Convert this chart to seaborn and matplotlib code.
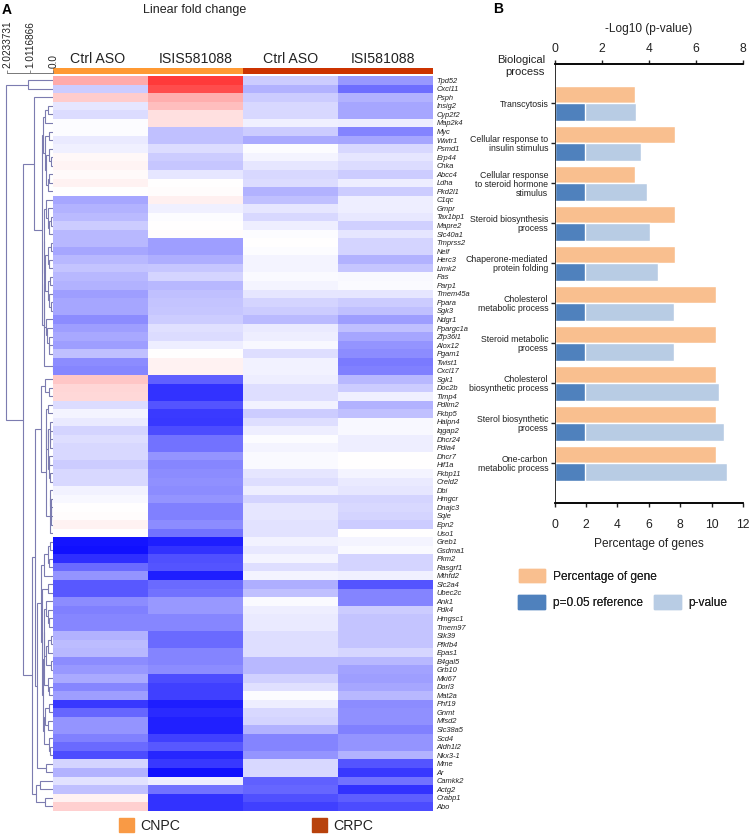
import matplotlib
matplotlib.use("Agg")
import matplotlib.pyplot as plt
from matplotlib.colors import ListedColormap
from matplotlib.patches import Patch
import numpy as np
import pandas as pd
import seaborn as sns

# panel A: heatmap rows, top to bottom
genes = ["Tpd52", "Cxcl11", "Psph", "Insig2", "Cyp2f2", "Map2k4", "Myc", "Wwtr1", "Psmd1", "Erp44",
         "Chka", "Abcc4", "Ldha", "Pkd2l1", "C1qc", "Gmpr", "Tax1bp1", "Mapre2", "Slc40a1", "Tmprss2",
         "Nelf", "Herc3", "Limk2", "Fas", "Parp1", "Tmem45a", "Ppara", "Sgk3", "Ndgr1", "Ppargc1a",
         "Zfp36l1", "Alox12", "Pgam1", "Twist1", "Cxcl17", "Sgk1", "Doc2b", "Timp4", "Pdlim2", "Fkbp5",
         "Halpn4", "Iqgap2", "Dhcr24", "Pdia4", "Dhcr7", "Hif1a", "Fkbp11", "Creld2", "Dbi", "Hmgcr",
         "Dnajc3", "Sqle", "Epn2", "Uso1", "Greb1", "Gsdma1", "Pkm2", "Rasgrf1", "Mthfd2", "Slc2a4",
         "Ubec2c", "Ank1", "Pdk4", "Hmgsc1", "Tmem97", "Stk39", "Pfkfb4", "Epas1", "B4gal5", "Grb10",
         "Mki67", "Dorl3", "Mat2a", "Phf19", "Gnmt", "Mfsd2", "Slc38a5", "Scd4", "Aldh1l2", "Nkx3-1",
         "Mme", "Ar", "Camkk2", "Actg2", "Crabp1", "Abo"]
cnpc_ctrl = [.33, -.2, .2, -.1, -.14, -.01, -.01, -.08, -.06, .03,
             .04, .02, .05, 0, -.35, -.3, -.27, -.2, -.28, -.28,
             -.35, -.28, -.23, -.28, -.3, -.38, -.35, -.35, -.45, -.38,
             -.34, -.38, -.25, -.45, -.47, .22, .16, .15, -.14, -.04,
             -.08, -.17, -.13, -.15, -.15, -.2, -.15, -.15, -.05, -.03,
             0, .01, .05, 0, -.92, -.93, -.82, -.58, -.42, -.65,
             -.65, -.45, -.5, -.47, -.47, -.3, -.26, -.28, -.45, -.4,
             -.33, -.47, -.38, -.78, -.6, -.42, -.42, -.5, -.58, -.7,
             -.17, -.3, -.11, -.25, .05, .18]
cnpc_isis = [.77, .7, .32, .25, .12, .12, -.25, -.25, -.14, -.2,
             -.22, -.1, 0, .01, .06, -.06, -.01, 0, .01, -.38,
             -.38, -.32, -.22, -.17, -.28, -.25, -.23, -.22, -.2, -.12,
             -.14, -.07, 0, .05, .05, -.62, -.8, -.8, -.67, -.77,
             -.78, -.7, -.55, -.55, -.42, -.47, -.45, -.43, -.45, -.42,
             -.5, -.5, -.45, -.55, -.88, -.8, -.68, -.67, -.88, -.58,
             -.55, -.4, -.4, -.47, -.47, -.58, -.58, -.48, -.48, -.45,
             -.7, -.75, -.75, -.88, -.83, -.87, -.87, -.75, -.65, -.85,
             -.78, -.93, -.07, -.55, -.8, -.8]
crpc_ctrl = [-.2, -.3, -.2, -.15, -.15, -.06, -.2, -.33, -.01, -.04,
             -.1, -.15, -.14, -.3, -.25, -.1, -.15, -.07, -.01, 0,
             -.01, -.04, -.04, -.02, -.04, -.1, -.17, -.2, -.27, -.08,
             -.07, -.03, -.13, -.05, -.05, -.07, -.13, -.13, -.05, -.2,
             -.13, -.07, -.01, -.04, -.02, -.02, -.1, -.13, -.07, -.17,
             -.1, -.1, -.11, -.11, -.05, -.09, -.04, -.13, -.04, -.32,
             -.25, -.02, -.07, -.08, -.08, -.13, -.13, -.13, -.28, -.28,
             -.18, -.12, -.01, -.07, -.15, -.17, -.3, -.48, -.48, -.42,
             -.15, -.15, -.62, -.6, -.68, -.75]
crpc_isi = [-.4, -.57, -.3, -.35, -.35, -.07, -.48, -.35, -.15, -.1,
            -.14, -.2, -.07, -.2, -.07, -.07, -.09, -.18, -.1, -.17,
            -.17, -.3, -.22, -.03, -.02, -.1, -.2, -.25, -.38, -.25,
            -.35, -.42, -.45, -.52, -.5, -.28, -.2, -.06, -.3, -.25,
            -.03, -.03, -.07, -.07, 0, 0, -.04, -.08, -.1, -.17,
            -.15, -.17, -.2, 0, -.04, -.02, -.17, -.17, -.06, -.67,
            -.48, -.48, -.2, -.23, -.23, -.23, -.23, -.16, -.28, -.36,
            -.38, -.35, -.28, -.45, -.43, -.43, -.5, -.42, -.42, -.3,
            -.67, -.78, -.55, -.8, -.63, -.7]
column_labels = ["Ctrl ASO", "ISIS581088", "Ctrl ASO", "ISI581088"]
stage_groups = [[0, 0, 1, 1]]

# dendrogram as (height, child, child); plain ints are row numbers
top_pair = (1.09, 0, 1)
rows_3_13 = (.46, (.35, (.25, 3, 4), 5),
             (.38, (.17, 6, 7), (.33, (.2, 8, (.12, 9, 10)), (.22, (.2, 11, 12), 13))))
rows_14_18 = (.3, 14, (.22, 15, (.18, (.1, 16, 17), 18)))
rows_19_27 = (.38, (.25, (.08, 19, 20), (.2, 21, 22)),
              (.24, (.16, 23, 24), (.2, 25, (.08, 26, 27))))
rows_28_32 = (.33, 28, (.28, 29, (.2, 30, (.18, 31, 32))))
rows_14_34 = (.42, (.4, (.39, rows_14_18, rows_19_27), rows_28_32), (.02, 33, 34))
upper_branch = (.83, 2, (.5, rows_3_13, rows_14_34))
rows_38_47 = (.3, (.22, 38, 39),
              (.24, (.15, 40, (.14, 41, (.13, 42, 43))), (.2, (.17, 44, 45), (.16, 46, 47))))
rows_48_53 = (.16, (.14, 48, (.12, 49, (.1, 50, (.08, 51, 52)))), 53)
rows_35_53 = (.55, (.35, 35, (.17, 36, 37)), (.32, rows_38_47, rows_48_53))
rows_54_58 = (.42, (.24, (.13, 54, 55), (.2, 56, 57)), 58)
rows_61_69 = (.39, (.3, 61, (.22, 62, (.17, 63, 64))),
              (.3, (.22, (.12, 65, 66), 67), (.1, 68, 69)))
rows_70_72 = (.25, 70, (.2, 71, 72))
rows_73_79 = (.4, (.35, (.2, 73, 74), (.25, 75, 76)), (.2, 77, (.15, 78, 79)))
rows_59_79 = (.48, (.22, 59, 60), (.45, (.42, rows_61_69, rows_70_72), rows_73_79))
rows_54_81 = (.7, (.54, rows_54_58, rows_59_79), (.3, 80, 81))
rows_82_85 = (.755, (.57, 82, 83), (.35, 84, 85))
lower_branch = (.92, (.8, rows_35_53, rows_54_81), rows_82_85)
tree = (2.05, top_pair, (1.31, upper_branch, lower_branch))
dendro_ticks = [0.0, 1.0116866, 2.0233731]

# panel B
processes = ["Transcytosis", "Cellular response to\ninsulin stimulus",
             "Cellular response\nto steroid hormone\nstimulus", "Steroid biosynthesis\nprocess",
             "Chaperone-mediated\nprotein folding", "Cholesterol\nmetabolic process",
             "Steroid metabolic\nprocess", "Cholesterol\nbiosynthetic process",
             "Sterol biosynthetic\nprocess", "One-carbon\nmetabolic process"]
pct_genes = [5.13, 7.69, 5.13, 7.69, 7.69, 10.26, 10.26, 10.26, 10.26, 10.26]
log_p = [3.45, 3.66, 3.9, 4.03, 4.37, 5.05, 5.07, 6.95, 7.17, 7.31]
p_reference = [1.3] * 10

ORANGE = "#F9BF8F"
DARK_BLUE = "#4F81BD"
LIGHT_BLUE = "#B8CCE4"
SIDE_ORDER = ["gene", "p"]

sns.set_theme(style="white")
plt.rcParams["font.family"] = ["Liberation Sans", "DejaVu Sans"]

W, H = 750, 839
fig = plt.figure(figsize=(W / 100, H / 100), dpi=100)


def ax_px(x0, y0, x1, y1):
    # axes from pixel box, y measured from the top of the figure
    return fig.add_axes([x0 / W, 1 - y1 / H, (x1 - x0) / W, (y1 - y0) / H])


# heatmap
heat = pd.DataFrame({"a": cnpc_ctrl, "b": cnpc_isis, "c": crpc_ctrl, "d": crpc_isi}, index=genes)
ax_heat = ax_px(53.3, 76, 433.3, 810.7)
sns.heatmap(heat, ax=ax_heat, cmap="bwr", vmin=-1, vmax=1, cbar=False, xticklabels=False,
            yticklabels=genes)
ax_heat.yaxis.tick_right()
ax_heat.tick_params(axis="y", length=0, pad=2.2, labelrotation=0, labelsize=5.4)
for lab in ax_heat.get_yticklabels():
    lab.set_style("italic")
    lab.set_color("#222222")

# stage strip above the heatmap
ax_strip = ax_px(53.3, 67.5, 433.3, 74)
sns.heatmap(stage_groups, ax=ax_strip, cmap=ListedColormap(["#FF9933", "#CC3300"]), cbar=False,
            xticklabels=False, yticklabels=False)
strip_px = [98, 196, 291, 383]
for x, label in zip(strip_px, column_labels):
    fig.text(x / W, 1 - 59 / H, label, ha="center", va="center", fontsize=10.2, color="#222222")

# dendrogram
ax_den = ax_px(0, 73, 53.3, 810.7)
ax_den.set_xlim(53.3 / 22.88, 0)
ax_den.set_ylim(86, -3 / 8.54)
ax_den.patch.set_alpha(0)


def draw_node(node):
    if isinstance(node, int):
        return 0.0, node + 0.5
    h, left, right = node
    h_a, y_a = draw_node(left)
    h_b, y_b = draw_node(right)
    ax_den.plot([h_a, h, h, h_b], [y_a, y_a, y_b, y_b], color="#7C7CB0", lw=0.8,
                solid_joinstyle="miter")
    return h, (y_a + y_b) / 2


draw_node(tree)
for side in ["left", "right", "bottom"]:
    ax_den.spines[side].set_visible(False)
ax_den.spines["top"].set_color("#777777")
ax_den.spines["top"].set_linewidth(0.7)
ax_den.spines["top"].set_bounds(0, dendro_ticks[-1])
ax_den.set_yticks([])
ax_den.xaxis.tick_top()
ax_den.set_xticks(dendro_ticks)
ax_den.set_xticklabels([str(t) for t in dendro_ticks], rotation=90, fontsize=7.2, color="#222222")
ax_den.tick_params(axis="x", top=True, length=2.5, width=0.6, pad=1, color="#777777")

# panel B bars: two value axes sharing the category slots
table = pd.DataFrame({"process": processes, "pct": pct_genes, "log_p": log_p, "ref": p_reference})
ax_pct = ax_px(554.5, 63.5, 743.3, 503.3)
ax_p = ax_pct.twiny()
sns.barplot(data=table.assign(side="gene"), y="process", x="pct", hue="side", hue_order=SIDE_ORDER,
            palette={"gene": ORANGE, "p": ORANGE}, width=0.86, dodge=True, ax=ax_pct, legend=False, saturation=1)
sns.barplot(data=table.assign(side="p"), y="process", x="log_p", hue="side", hue_order=SIDE_ORDER,
            palette={"gene": LIGHT_BLUE, "p": LIGHT_BLUE}, width=0.86, dodge=True, ax=ax_p, legend=False, saturation=1)
sns.barplot(data=table.assign(side="p"), y="process", x="ref", hue="side", hue_order=SIDE_ORDER,
            palette={"gene": DARK_BLUE, "p": DARK_BLUE}, width=0.86, dodge=True, ax=ax_p, legend=False, saturation=1)

ax_pct.set_xlim(0, 12)
ax_p.set_xlim(0, 8)
ax_pct.set_ylim(10, -1)
ax_p.set_ylim(10, -1)
ax_pct.set_xticks(range(0, 13, 2))
ax_p.set_xticks(range(0, 9, 2))
ax_pct.set_ylabel("")
ax_p.set_ylabel("")
ax_pct.set_xlabel("Percentage of genes", fontsize=8.6, color="#222222", labelpad=5.5)
ax_p.set_xlabel("-Log10 (p-value)", fontsize=8.6, color="#222222", labelpad=8)
ax_pct.tick_params(axis="x", bottom=True, length=3, width=1, labelsize=8.7, pad=8, colors="#222222")
ax_p.tick_params(axis="x", top=True, length=3, width=1, labelsize=8.7, pad=3, colors="#222222")
ax_pct.tick_params(axis="y", left=True, length=3, width=1, labelsize=6.3, pad=1.5, colors="#222222")
ax_p.tick_params(axis="y", left=False, right=False, labelleft=False, labelright=False)
for lab in ax_pct.get_yticklabels():
    lab.set_linespacing(0.98)
for ax in [ax_pct, ax_p]:
    ax.spines["right"].set_visible(False)
    ax.spines["left"].set_linewidth(0.7)
    ax.spines["left"].set_color("#333333")
    ax.spines["top"].set_color("black")
    ax.spines["bottom"].set_color("black")
    ax.spines["top"].set_linewidth(1.1)
    ax.spines["bottom"].set_linewidth(1.1)

fig.text(545 / W, 1 - 66 / H, "Biological\nprocess", ha="right", va="center", fontsize=8.1,
         color="#222222", linespacing=1.2)

# legends
bar_legend_top = fig.legend(handles=[Patch(color=ORANGE, label="Percentage of gene")], loc="upper left",
                            bbox_to_anchor=(518.5 / W, 1 - 569 / H), frameon=False, fontsize=8.6,
                            handlelength=2.26, handleheight=1.34, handletextpad=0.65, borderpad=0,
                            borderaxespad=0, labelcolor="#222222")
fig.add_artist(bar_legend_top)
bar_legend_low = fig.legend(handles=[Patch(color=DARK_BLUE, label="p=0.05 reference"),
                                     Patch(color=LIGHT_BLUE, label="p-value")],
                            loc="upper left", bbox_to_anchor=(518 / W, 1 - 595.3 / H), ncols=2, frameon=False,
                            fontsize=8.6, handlelength=2.26, handleheight=1.34, handletextpad=0.65,
                            columnspacing=0.9, borderpad=0, borderaxespad=0, labelcolor="#222222")
fig.add_artist(bar_legend_low)
fig.legend(handles=[Patch(color="#F99A45", label="CNPC"), Patch(color="#B8420C", label="CRPC")],
           loc="upper left", bbox_to_anchor=(119 / W, 1 - 818.3 / H), ncols=2, frameon=False, fontsize=10.2,
           handlelength=1.03, handleheight=1.11, handletextpad=0.47, columnspacing=9.3, borderpad=0,
           borderaxespad=0, labelcolor="#222222")

# titles and panel letters
fig.text(195 / W, 1 - 10 / H, "Linear fold change", ha="center", va="center", fontsize=9, color="#222222")
fig.text(2 / W, 1 - 9.5 / H, "A", ha="left", va="center", fontsize=10, fontweight="bold", color="black")
fig.text(493 / W, 1 - 9 / H, "B", ha="left", va="center", fontsize=10, fontweight="bold", color="black")

fig.savefig("out.png", dpi=100)
